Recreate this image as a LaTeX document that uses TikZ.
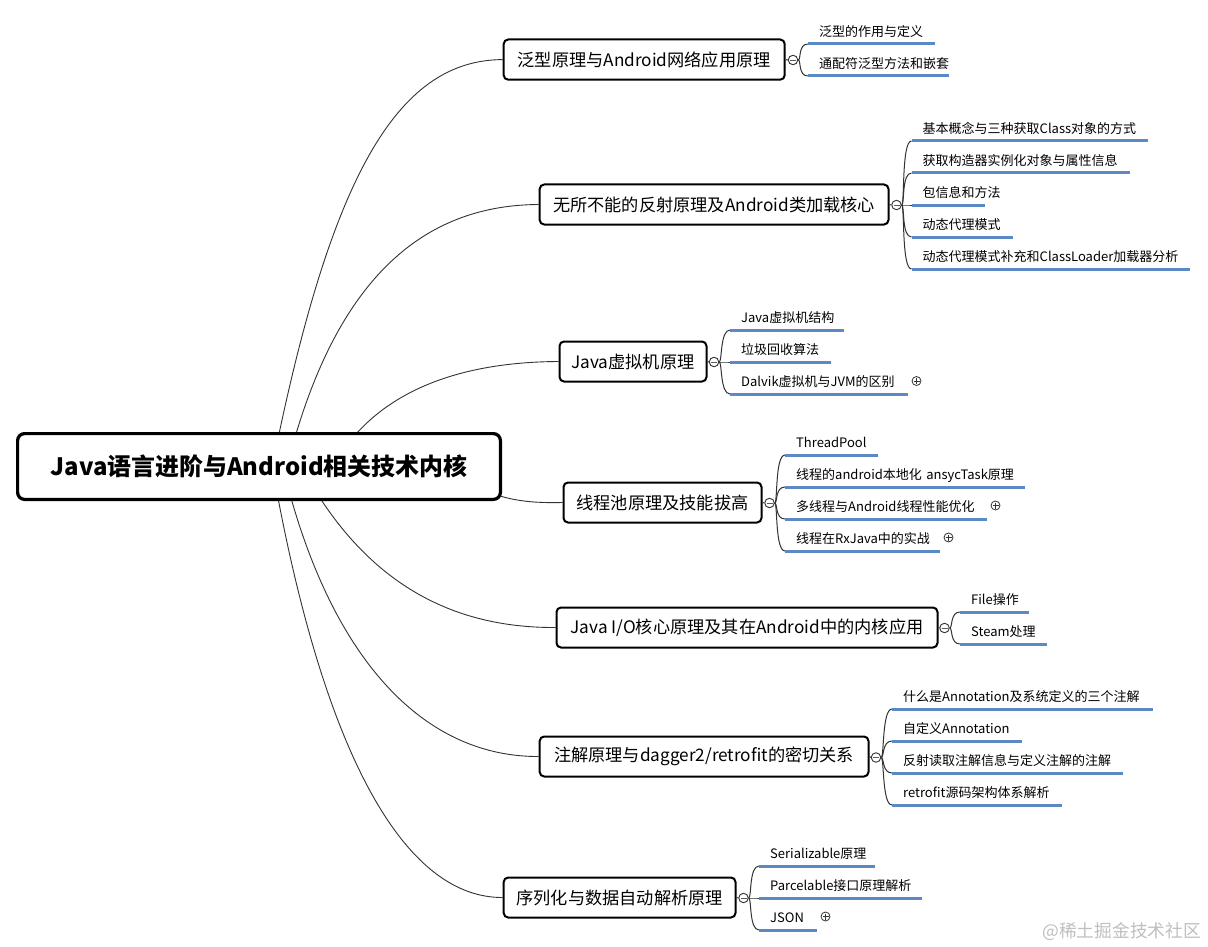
\documentclass[tikz,border=0pt]{standalone}
\usepackage{fontspec}
\setmainfont{Noto Sans CJK SC}
\usetikzlibrary{calc}
\definecolor{leafblue}{HTML}{5B89C5}
\definecolor{wire}{HTML}{333333}
\tikzset{
  x=1pt,y=-1pt,
  rootbox/.style={draw=black,line width=3.2pt,rounded corners=7pt,fill=white,inner sep=0pt,font=\fontsize{23.9}{28}\selectfont\bfseries},
  branchbox/.style={draw=black,line width=2pt,rounded corners=4.5pt,fill=white,inner sep=0pt,font=\fontsize{17.2}{20}\selectfont},
  leafbox/.style={anchor=south west,inner sep=0pt,minimum height=26pt,text height=12pt,text depth=1pt,font=\fontsize{13}{15}\selectfont},
  hubmark/.style={circle,draw=wire,line width=0.9pt,fill=white,minimum size=9.5pt,inner sep=0pt,
    path picture={\draw[wire!80,line width=0.6pt] ($(path picture bounding box.center)+(-3,0)$) -- ($(path picture bounding box.center)+(3,0)$);}},
  plusmark/.style={circle,draw=wire,line width=0.8pt,fill=white,minimum size=9pt,inner sep=0pt,
    path picture={\draw[wire,line width=0.7pt] ($(path picture bounding box.center)+(-3,0)$) -- ($(path picture bounding box.center)+(3,0)$) ($(path picture bounding box.center)+(0,-3)$) -- ($(path picture bounding box.center)+(0,3)$);}},
  trunk/.style={draw=wire,line width=0.9pt},
  twig/.style={draw=wire,line width=1pt},
  rule/.style={draw=leafblue,line width=3pt}
}
% \branchnode{name}{x0}{x1}{ytop}{ybot}{text}: outer edges of the box
\newcommand{\branchnode}[6]{%
  \node[branchbox,minimum width=#3-#2-2,minimum height=#5-#4-2,anchor=north west] (#1) at (#2,#4) {#6};}
% \leafnode{name}{hub}{x0}{x1}{y}{text}
\newcommand{\leafnode}[6]{%
  \pgfmathsetmacro{\leafw}{#4-#3}%
  \node[leafbox,text width=\leafw pt] (#1) at (#3,#5) {\mbox{\hspace{11pt}#6}};
  \draw[twig] (#2.east) .. controls +(3,0) and +(-10,0) .. (#1.south west);
  \draw[rule] (#1.south west) -- (#1.south east);}
\begin{document}
\begin{tikzpicture}
\useasboundingbox (0,0) rectangle (1208,947);
\fill[white] (0,0) rectangle (1208,947);
% anchor points on the root outline
\coordinate (r1) at (279,434);
\coordinate (r2) at (296,434);
\coordinate (r3) at (356,434);
\coordinate (r4) at (500,496);
\coordinate (r5) at (320,498);
\coordinate (r6) at (291,498);
\coordinate (r7) at (278,498);
% branches
\branchnode{b1}{502.7}{785.7}{38.5}{80.7}{泛型原理与Android网络应用原理}
\branchnode{b2}{538.7}{889.5}{183.5}{225.5}{无所不能的反射原理及Android类加载核心}
\branchnode{b3}{558.5}{707.5}{340.5}{382.5}{Java虚拟机原理}
\branchnode{b4}{562.5}{762.5}{481.5}{523.5}{线程池原理及技能拔高}
\branchnode{b5}{555.5}{938.5}{606.5}{648.5}{Java I/O核心原理及其在Android中的内核应用}
\branchnode{b6}{538.7}{869.5}{735.5}{777.5}{注解原理与dagger2/retrofit的密切关系}
\branchnode{b7}{502.7}{736.5}{876.5}{918.5}{序列化与数据自动解析原理}
% trunk connectors
\draw[trunk] (r1) .. controls (335,170) and (400,60) .. (b1.west);
\draw[trunk] (r2) .. controls (345,270) and (430,205) .. (b2.west);
\draw[trunk] (r3) .. controls (400,385) and (470,362) .. (b3.west);
\draw[trunk] (r4) .. controls (520,502) and (540,503) .. (b4.west);
\draw[trunk] (r5) .. controls (380,590) and (460,628) .. (b5.west);
\draw[trunk] (r6) .. controls (340,670) and (430,757) .. (b6.west);
\draw[trunk] (r7) .. controls (330,770) and (410,898) .. (b7.west);
% root
\node[rootbox,minimum width=482.8pt,minimum height=65.8pt] (root) at (259,466.5) {Java语言进阶与Android相关技术内核};
% hubs
\node[hubmark] (h1) at (793,60) {};
\node[hubmark] (h2) at (896.5,205) {};
\node[hubmark] (h3) at (714,362) {};
\node[hubmark] (h4) at (769.5,503) {};
\node[hubmark] (h5) at (944.5,628) {};
\node[hubmark] (h6) at (876,757.5) {};
\node[hubmark] (h7) at (743.5,898) {};
\foreach \i in {1,...,7} {\draw[twig] (b\i.east) -- (h\i.west);}
% leaves
\leafnode{l11}{h1}{808}{935}{44}{泛型的作用与定义}
\leafnode{l12}{h1}{808}{949}{76}{通配符泛型方法和嵌套}
\leafnode{l21}{h2}{911.5}{1148}{141}{基本概念与三种获取Class对象的方式}
\leafnode{l22}{h2}{911.5}{1130}{173}{获取构造器实例化对象与属性信息}
\leafnode{l23}{h2}{911.5}{985}{205}{包信息和方法}
\leafnode{l24}{h2}{911.5}{1013}{237}{动态代理模式}
\leafnode{l25}{h2}{911.5}{1190}{269}{动态代理模式补充和ClassLoader加载器分析}
\leafnode{l31}{h3}{730}{844}{330}{Java虚拟机结构}
\leafnode{l32}{h3}{730}{831}{362}{垃圾回收算法}
\leafnode{l33}{h3}{730}{908}{394}{Dalvik虚拟机与JVM的区别}
\leafnode{l41}{h4}{785}{878}{455}{ThreadPool}
\leafnode{l42}{h4}{785}{1025}{487}{线程的android本地化 ansycTask原理}
\leafnode{l43}{h4}{785}{987}{519}{多线程与Android线程性能优化}
\leafnode{l44}{h4}{785}{940}{551}{线程在RxJava中的实战}
\leafnode{l51}{h5}{960}{1029}{612}{File操作}
\leafnode{l52}{h5}{960}{1047}{644}{Steam处理}
\leafnode{l61}{h6}{892}{1153}{709}{什么是Annotation及系统定义的三个注解}
\leafnode{l62}{h6}{892}{1022}{741}{自定义Annotation}
\leafnode{l63}{h6}{892}{1123}{773}{反射读取注解信息与定义注解的注解}
\leafnode{l64}{h6}{892}{1062}{805}{retrofit源码架构体系解析}
\leafnode{l71}{h7}{759}{875}{866}{Serializable原理}
\leafnode{l72}{h7}{759}{922}{898}{Parcelable接口原理解析}
\leafnode{l73}{h7}{759}{817}{930}{JSON}
% collapsed markers
\node[plusmark] (p33) at (916.5,381) {};
\node[plusmark] (p43) at (995.5,505.5) {};
\node[plusmark] (p44) at (948.5,537.5) {};
\node[plusmark] (p73) at (825.5,916.5) {};
% watermark
\node[anchor=east,inner sep=0pt,text=black!25,font=\fontsize{17.7}{20}\selectfont] (wm) at (1201,931.5) {@稀土掘金技术社区};
\end{tikzpicture}
\end{document}
